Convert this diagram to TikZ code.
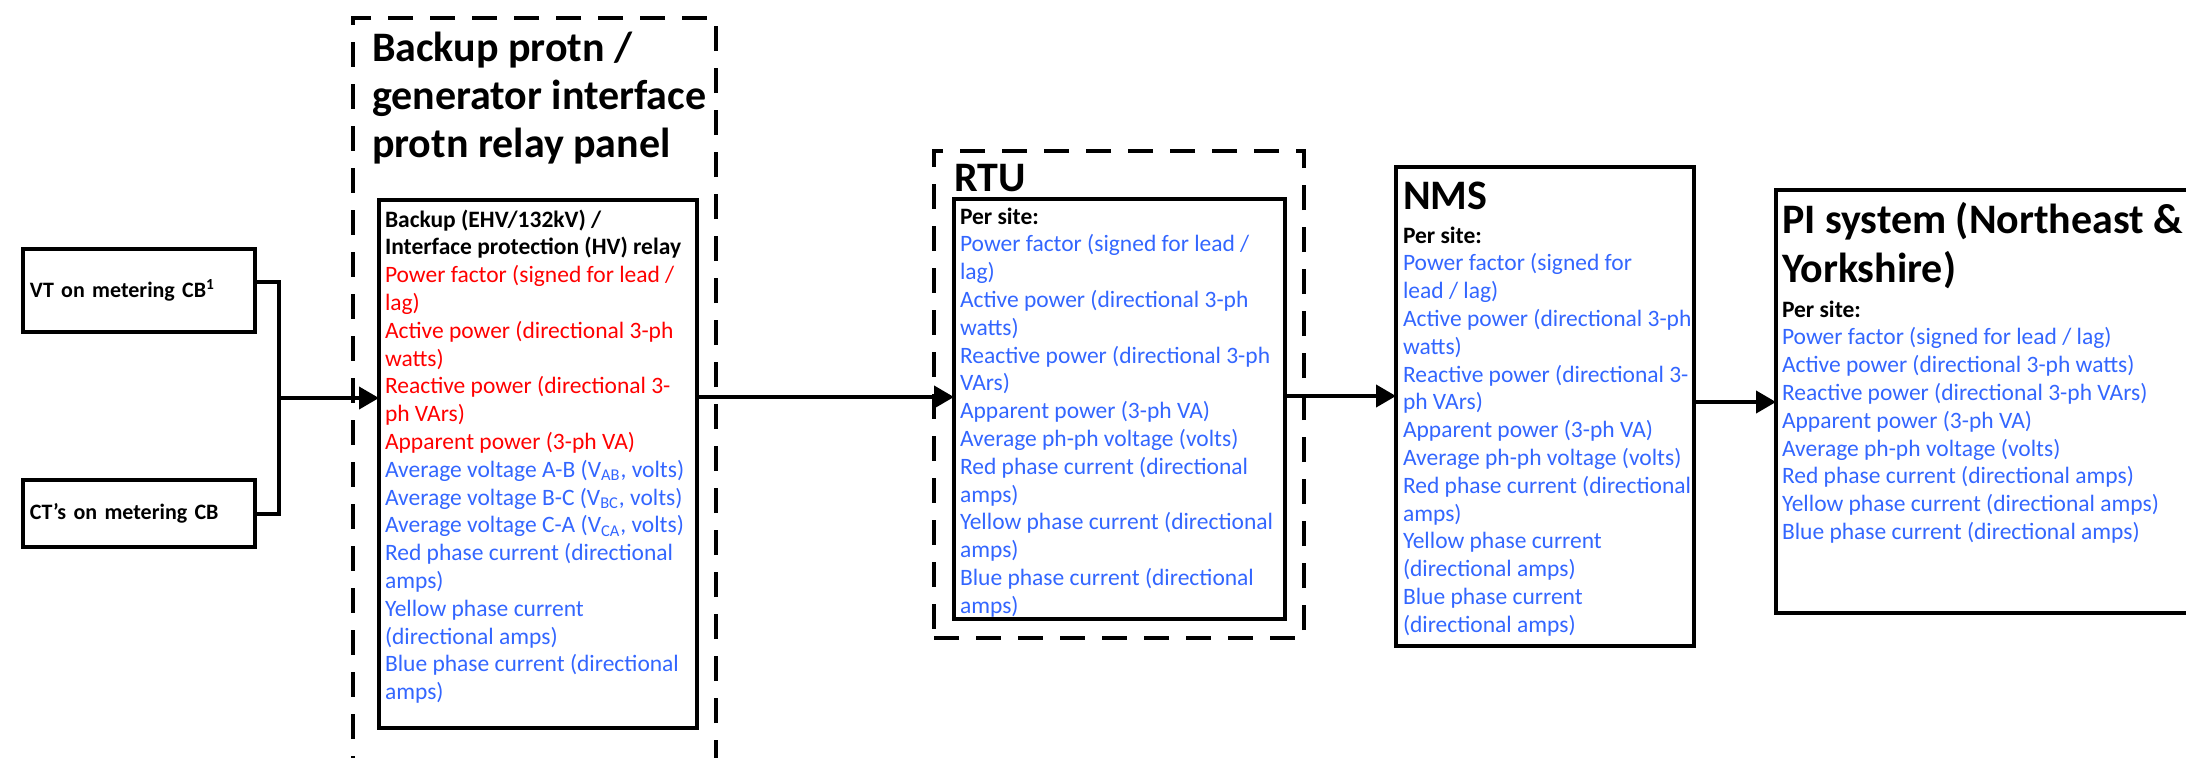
\documentclass[tikz,border=0pt]{standalone}
\usepackage{fontspec}
\setmainfont{Carlito}
\usetikzlibrary{arrows.meta}
\definecolor{lblue}{RGB}{51,102,255}
\definecolor{lred}{RGB}{255,0,0}
\newcommand\bodyfont{\fontsize{11.75}{13.9}\selectfont}
\newcommand\srcfont{\fontsize{11}{13.4}\selectfont\bfseries}
\newcommand\headfont{\fontsize{21}{24}\selectfont\bfseries}
\newcommand\textblock[2]{\parbox[t]{#1}{\raggedright\leavevmode #2}}
\begin{document}
\begin{tikzpicture}[x=0.5pt,y=-0.5pt,
  box/.style={draw, line width=1.7pt, inner sep=0pt, outer sep=0pt, anchor=north west},
  panel/.style={draw, line width=1.6pt, dash pattern=on 12.5pt off 8.5pt, inner sep=0pt, outer sep=0pt, anchor=north west},
  srcbox/.style={box, inner xsep=3.5pt, align=left, font=\srcfont},
  wire/.style={line width=2pt},
  feed/.style={wire, -{Triangle[length=10pt,width=11pt]}},
  txt/.style={anchor=base west, inner sep=0pt, outer sep=0pt},
]
\useasboundingbox (0,0) rectangle (2186,757);

% measurement transformers
\node[srcbox, minimum width=116pt, minimum height=41.5pt, text width=109pt] (vt) at (23,249) {VT on metering CB\textsuperscript{1}};
\node[srcbox, minimum width=116pt, minimum height=33.5pt, text width=109pt] (ct) at (23,480) {CT’s on metering CB};

% relay panel
\node[panel, minimum width=181.5pt, minimum height=381pt] (panel) at (353,18) {};
\node[txt] (paneltitle) at (372,61) {\textblock{200pt}{\headfont Backup protn /\\generator interface\\protn relay panel}};
\node[box, minimum width=159pt, minimum height=264pt] (relay) at (379,200) {};
\node[txt] (relaytext) at (385,227) {\textblock{200pt}{\bodyfont\textbf{Backup (EHV/132kV) /}\\
\textbf{Interface protection (HV) relay}\\
\color{lred}Power factor (signed for lead /\\
lag)\\
Active power (directional 3-ph\\
watts)\\
Reactive power (directional 3-\\
ph VArs)\\
Apparent power (3-ph VA)\\
\color{lblue}Average voltage A-B (V\textsubscript{AB}, volts)\\
Average voltage B-C (V\textsubscript{BC}, volts)\\
Average voltage C-A (V\textsubscript{CA}, volts)\\
Red phase current (directional\\
amps)\\
Yellow phase current\\
(directional amps)\\
Blue phase current (directional\\
amps)}};

% RTU
\node[panel, minimum width=185pt, minimum height=243.5pt] (rtupanel) at (934,151) {};
\node[txt] (rtutitle) at (954,191) {\headfont RTU};
\node[box, minimum width=165.5pt, minimum height=210pt] (rtu) at (954,199) {};
\node[txt] (rtutext) at (960,224) {\textblock{200pt}{\bodyfont\textbf{Per site:}\\
\color{lblue}Power factor (signed for lead /\\
lag)\\
Active power (directional 3-ph\\
watts)\\
Reactive power (directional 3-ph\\
VArs)\\
Apparent power (3-ph VA)\\
Average ph-ph voltage (volts)\\
Red phase current (directional\\
amps)\\
Yellow phase current (directional\\
amps)\\
Blue phase current (directional\\
amps)}};

% NMS
\node[box, minimum width=149pt, minimum height=239.5pt] (nms) at (1396,167) {};
\node[txt] (nmstitle) at (1403,209) {\headfont NMS};
\node[txt] (nmstext) at (1403,243) {\textblock{200pt}{\bodyfont\textbf{Per site:}\\
\color{lblue}Power factor (signed for\\
lead / lag)\\
Active power (directional 3-ph\\
watts)\\
Reactive power (directional 3-\\
ph VArs)\\
Apparent power (3-ph VA)\\
Average ph-ph voltage (volts)\\
Red phase current (directional\\
amps)\\
Yellow phase current\\
(directional amps)\\
Blue phase current\\
(directional amps)}};

% PI system
\node[box, minimum width=215pt, minimum height=211.5pt] (pi) at (1776,190) {};
\node[txt] (pititle) at (1782,233) {\textblock{250pt}{\fontsize{21}{24.5}\selectfont\bfseries PI system (Northeast \&\\Yorkshire)}};
\node[txt] (pitext) at (1782,317) {\textblock{250pt}{\bodyfont\textbf{Per site:}\\
\color{lblue}Power factor (signed for lead / lag)\\
Active power (directional 3-ph watts)\\
Reactive power (directional 3-ph VArs)\\
Apparent power (3-ph VA)\\
Average ph-ph voltage (volts)\\
Red phase current (directional amps)\\
Yellow phase current (directional amps)\\
Blue phase current (directional amps)}};

% connectors
\coordinate (jn) at (279,398);
\draw[wire] ([yshift=4.25pt]vt.east) -| (jn) |- (ct.east);
\draw[feed] (jn) -- (jn -| relay.west);
\draw[feed] ([yshift=33.5pt]relay.east) coordinate (o1) -- (o1 -| rtu.west);
\draw[feed] ([yshift=6.5pt]rtu.east) coordinate (o2) -- (o2 -| nms.west);
\draw[feed] ([yshift=2.25pt]nms.east) coordinate (o3) -- (o3 -| pi.west);
\end{tikzpicture}
\end{document}
